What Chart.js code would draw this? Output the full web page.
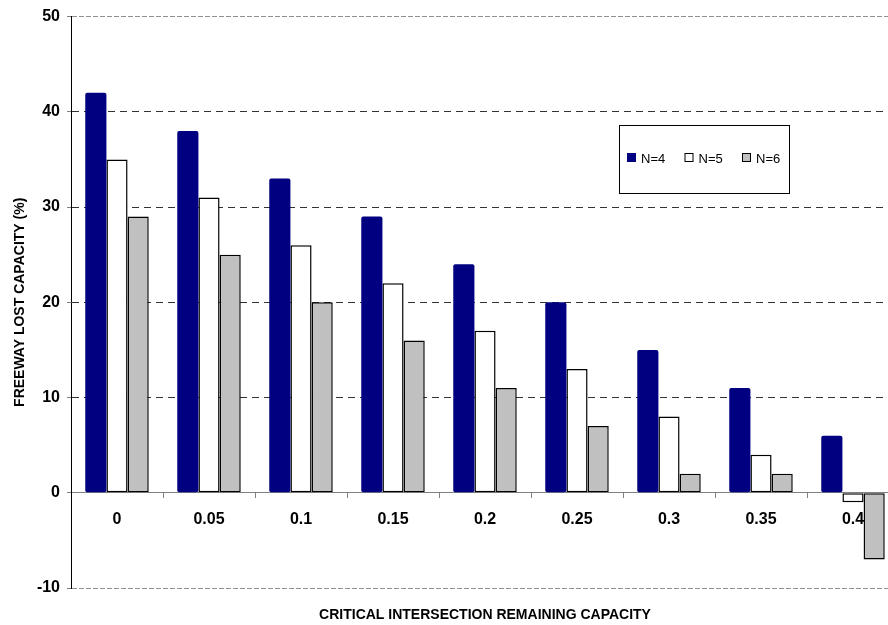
<!DOCTYPE html>
<html>
<head>
<meta charset="utf-8">
<script src="https://cdn.jsdelivr.net/npm/chart.js@4.4.0/dist/chart.umd.min.js"></script>
<style>
  html, body { margin: 0; padding: 0; background: #fff; overflow: hidden; }
  #wrap { width: 910px; height: 625px; }
</style>
</head>
<body>
<div id="wrap"><canvas id="chart" width="910" height="625"></canvas></div>
<script>
// data
const categories = ['0', '0.05', '0.1', '0.15', '0.2', '0.25', '0.3', '0.35', '0.4'];
const n4 = [42, 38, 33, 29, 24, 20, 15, 11, 6];
const n5 = [35, 31, 26, 22, 17, 13, 8, 4, -1];
const n6 = [29, 25, 20, 16, 11, 7, 2, 2, -7];
const seriesLabels = ['N=4', 'N=5', 'N=6'];
const yTicks = [-10, 0, 10, 20, 30, 40, 50];

const FONT = 'Arial, "Liberation Sans", sans-serif';

// legend box + x title drawn by hand, Excel-style
const extras = {
  id: 'extras',
  afterDraw(chart) {
    const { ctx, chartArea } = chart;
    ctx.save();
    // x axis title, centred on the plot area
    ctx.fillStyle = '#000';
    ctx.font = 'bold 14px ' + FONT;
    ctx.textAlign = 'center';
    ctx.textBaseline = 'middle';
    ctx.fillText('CRITICAL INTERSECTION REMAINING CAPACITY', (chartArea.left + chartArea.right) / 2, 615);

    // legend
    const bx = 619, by = 125, bw = 170, bh = 68;
    ctx.fillStyle = '#fff';
    ctx.fillRect(bx, by, bw, bh);
    ctx.strokeStyle = '#000';
    ctx.lineWidth = 1;
    ctx.strokeRect(bx + 0.5, by + 0.5, bw, bh);
    ctx.font = '13px ' + FONT;
    ctx.textAlign = 'left';
    chart.data.datasets.forEach((ds, i) => {
      const x = 627 + i * 57.5, y = 158;
      ctx.fillStyle = ds.backgroundColor;
      ctx.fillRect(x, y - 5, 9, 9);
      if (ds.borderWidth) {
        ctx.strokeStyle = '#000';
        ctx.strokeRect(x + 0.5, y - 4.5, 8, 8);
      }
      ctx.fillStyle = '#000';
      ctx.fillText(ds.label, x + 14, y + 1);
    });
    ctx.restore();
  }
};

const isEdge = v => v === 50 || v === -10;

new Chart(document.getElementById('chart'), {
  type: 'bar',
  data: {
    labels: categories,
    datasets: [
      { label: seriesLabels[0], data: n4, backgroundColor: '#000080', borderWidth: 0, borderRadius: 2, borderSkipped: false },
      { label: seriesLabels[1], data: n5, backgroundColor: '#ffffff', borderColor: '#000', borderWidth: 1.5, borderSkipped: false },
      { label: seriesLabels[2], data: n6, backgroundColor: '#c0c0c0', borderColor: '#000', borderWidth: 1.5, borderSkipped: false }
    ]
  },
  options: {
    responsive: false,
    devicePixelRatio: 1,
    animation: false,
    layout: { padding: { left: 0, top: 14, right: 11, bottom: 37 } },
    datasets: { bar: { categoryPercentage: 0.69, barPercentage: 1 } },
    plugins: {
      legend: { display: false },
      tooltip: { enabled: false }
    },
    scales: {
      x: {
        position: { y: 0 },
        offset: true,
        grid: { drawOnChartArea: false, offset: true, tickLength: 5, color: '#808080' },
        border: { color: '#808080' },
        ticks: { color: '#000', font: { family: FONT, size: 16, weight: 'bold' }, padding: 12, maxRotation: 0 }
      },
      y: {
        min: -10,
        max: 50,
        afterBuildTicks(scale) { scale.ticks = yTicks.map(v => ({ value: v })); },
        afterFit(scale) { scale.width = 71; },
        grid: {
          tickLength: 4,
          color: ctx => ctx.tick && ctx.tick.value === 0 ? '#808080' : (ctx.tick && isEdge(ctx.tick.value) ? '#909090' : '#333'),
          tickColor: '#808080'
        },
        border: {
          color: '#000',
          width: 1,
          dash: ctx => {
            if (!ctx.tick) return [];
            if (ctx.tick.value === 0) return [];
            if (isEdge(ctx.tick.value)) return [5, 2];
            return [7, 5];
          }
        },
        ticks: { color: '#000', font: { family: FONT, size: 16, weight: 'bold' }, padding: 7 },
        title: {
          display: true,
          text: 'FREEWAY LOST CAPACITY (%)',
          color: '#000',
          font: { family: FONT, size: 14, weight: 'bold' },
          padding: { top: 12, bottom: 0 }
        }
      }
    }
  },
  plugins: [extras]
});
</script>
</body>
</html>
